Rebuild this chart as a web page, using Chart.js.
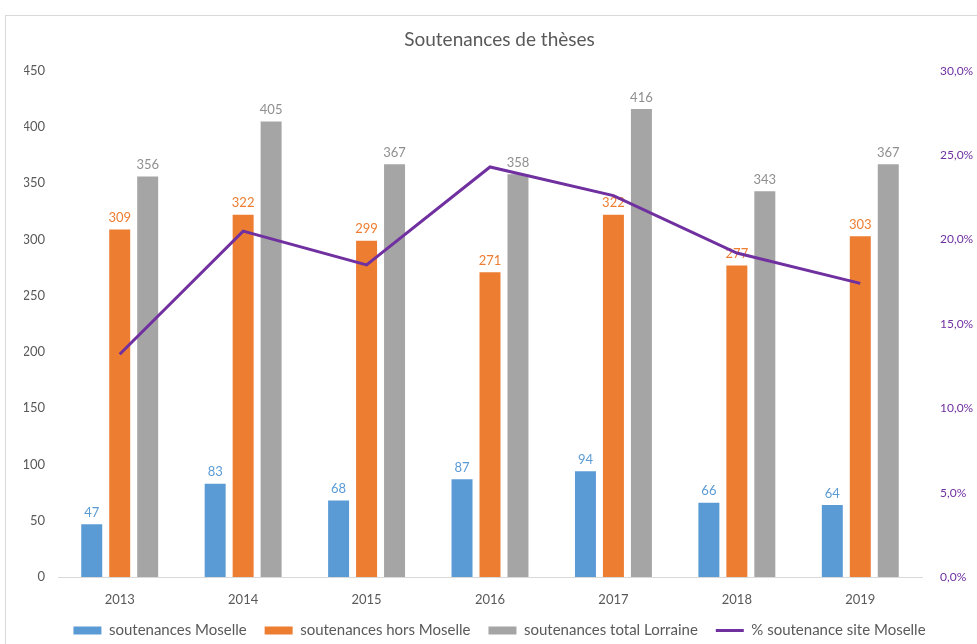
<!DOCTYPE html>
<html>
<head>
<meta charset="utf-8">
<script src="https://cdn.jsdelivr.net/npm/chart.js@4/dist/chart.umd.min.js"></script>
<style>
  html, body { margin: 0; padding: 0; background: #fff; }
  #wrap { position: relative; width: 977px; height: 644px; }
</style>
</head>
<body>
<div id="wrap"><canvas id="c" width="977" height="644"></canvas></div>
<script>
const years = ['2013', '2014', '2015', '2016', '2017', '2018', '2019'];
const moselle = [47, 83, 68, 87, 94, 66, 64];
const horsMoselle = [309, 322, 299, 271, 322, 277, 303];
const totalLorraine = [356, 405, 367, 358, 416, 343, 367];
const pctMoselle = [13.2, 20.5, 18.5, 24.3, 22.6, 19.2, 17.4];

const BLUE = '#5B9BD5', ORANGE = '#ED7D31', GREY = '#A5A5A5', PURPLE = '#7030A0';
const TEXT = '#595959';
const FONT = 'Lato, "Open Sans", sans-serif';
const LEGEND_HEIGHT = 39;

// light frame around the whole chart
const frame = {
  id: 'frame',
  beforeDraw(chart) {
    const ctx = chart.ctx;
    ctx.save();
    ctx.strokeStyle = '#d9d9d9';
    ctx.lineWidth = 1;
    ctx.strokeRect(5.5, 15.5, 990, 650);
    ctx.restore();
  }
};

// keep the legend row compact while items stay widely spaced
const compactLegend = {
  id: 'compactLegend',
  beforeUpdate(chart) {
    const lg = chart.legend;
    if (lg && !lg._compact) {
      const fit = lg.fit.bind(lg);
      lg.fit = function () { fit(); this.height = LEGEND_HEIGHT; };
      lg._compact = true;
    }
  }
};

// value labels above each bar, drawn right after its own dataset
const barLabels = {
  id: 'barLabels',
  afterDatasetDraw(chart, args) {
    const ds = chart.data.datasets[args.index];
    if (ds.type !== 'bar') return;
    const ctx = chart.ctx;
    ctx.save();
    ctx.font = '13px ' + FONT;
    ctx.fillStyle = ds.labelColor;
    ctx.textAlign = 'center';
    ctx.textBaseline = 'bottom';
    args.meta.data.forEach((bar, i) => {
      ctx.fillText(String(ds.data[i]), bar.x, bar.y - 5);
    });
    ctx.restore();
  }
};

const barCommon = { type: 'bar', yAxisID: 'y', order: 1, categoryPercentage: 0.68, barPercentage: 0.75, pointStyle: 'rect' };

new Chart(document.getElementById('c'), {
  data: {
    labels: years,
    datasets: [
      Object.assign({ label: 'soutenances Moselle', data: moselle, backgroundColor: BLUE, labelColor: BLUE }, barCommon),
      Object.assign({ label: 'soutenances hors Moselle', data: horsMoselle, backgroundColor: ORANGE, labelColor: ORANGE }, barCommon),
      Object.assign({ label: 'soutenances total Lorraine', data: totalLorraine, backgroundColor: GREY, labelColor: '#8f8f8f' }, barCommon),
      {
        type: 'line', label: '% soutenance site Moselle', data: pctMoselle, yAxisID: 'y1', order: 0,
        borderColor: PURPLE, backgroundColor: PURPLE, borderWidth: 3, pointRadius: 0, pointStyle: 'line',
        tension: 0, fill: false
      }
    ]
  },
  options: {
    responsive: false,
    animation: false,
    layout: { padding: { left: 24, right: 2, top: 22, bottom: 0 } },
    plugins: {
      title: {
        display: true, text: 'Soutenances de thèses', color: TEXT,
        font: { family: FONT, size: 19, weight: 'normal' }, padding: { top: 6, bottom: 20 }
      },
      legend: {
        position: 'bottom',
        labels: {
          color: TEXT, font: { family: FONT, size: 15 },
          usePointStyle: true, pointStyleWidth: 28, boxHeight: 8, padding: 18,
          sort: (a, b) => a.datasetIndex - b.datasetIndex
        }
      },
      tooltip: { enabled: false }
    },
    scales: {
      x: {
        grid: { display: false, drawTicks: false },
        border: { display: true, color: '#d9d9d9' },
        ticks: { color: TEXT, font: { family: FONT, size: 13 }, padding: 15 },
        afterFit: s => { s.height = 28; }
      },
      y: {
        position: 'left', min: 0, max: 450,
        grid: { display: false, drawTicks: false },
        border: { display: false },
        ticks: { stepSize: 50, color: TEXT, font: { family: FONT, size: 13 }, padding: 13 },
        afterFit: s => { s.width = 34; }
      },
      y1: {
        position: 'right', min: 0, max: 30,
        grid: { display: false, drawTicks: false },
        border: { display: false },
        ticks: {
          stepSize: 5, color: PURPLE, font: { family: FONT, size: 12 }, padding: 18,
          callback: v => v.toFixed(1).replace('.', ',') + '%'
        },
        afterFit: s => { s.width = 53; }
      }
    }
  },
  plugins: [frame, compactLegend, barLabels]
});
</script>
</body>
</html>
